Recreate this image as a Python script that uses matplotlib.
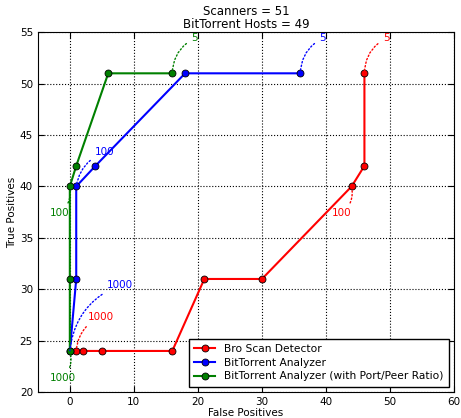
import matplotlib
matplotlib.use('Agg')
from matplotlib import pyplot as plt

# ROC-style data: (false positives, true positives) per threshold
bro_fp = [1, 2, 5, 16, 21, 30, 44, 46, 46]
bro_tp = [24, 24, 24, 24, 31, 31, 40, 42, 51]
bt_fp = [0, 1, 1, 4, 18, 36]
bt_tp = [24, 31, 40, 42, 51, 51]
btr_fp = [0, 0, 0, 1, 6, 16]
btr_tp = [24, 31, 40, 42, 51, 51]

labels = ["Bro Scan Detector", "BitTorrent Analyzer",
          "BitTorrent Analyzer (with Port/Peer Ratio)"]

# threshold labels: (text, point xy, text xy, colour)
notes = [
    ("5", (46, 51), (49.4, 54.4), "red"),
    ("100", (44, 40), (42.5, 37.4), "red"),
    ("1000", (1, 24), (4.8, 27.3), "red"),
    ("5", (36, 51), (39.5, 54.4), "blue"),
    ("100", (1, 40), (5.5, 43.3), "blue"),
    ("1000", (0, 24), (7.8, 30.4), "blue"),
    ("5", (16, 51), (19.5, 54.4), "green"),
    ("100", (0, 40), (-1.6, 37.4), "green"),
    ("1000", (0, 24), (-1.1, 21.4), "green"),
]

plt.rcParams['font.size'] = 8
fig = plt.figure(figsize=(4.61, 4.18), dpi=100)
ax = fig.add_axes([0.082, 0.062, 0.903, 0.861])

ax.plot(bro_fp, bro_tp, "-o", color="red", lw=1.5, ms=5, mec="black", mew=0.6, label=labels[0])
ax.plot(bt_fp, bt_tp, "-o", color="blue", lw=1.5, ms=5, mec="black", mew=0.6, label=labels[1])
ax.plot(btr_fp, btr_tp, "-o", color="green", lw=1.5, ms=5, mec="black", mew=0.6, label=labels[2])

for txt, xy, xyt, c in notes:
    ax.annotate(txt, xy=xy, xytext=xyt, color=c, fontsize=7.5,
                ha="center", va="center",
                arrowprops=dict(arrowstyle="-", linestyle=":", color=c, lw=1,
                                connectionstyle="arc3,rad=0.3",
                                shrinkA=2, shrinkB=0))

ax.set_xlim(-5, 60)
ax.set_ylim(20, 55)
ax.set_xticks(range(0, 61, 10))
ax.set_yticks(range(20, 56, 5))
ax.grid(True, color="black", linestyle=":", lw=0.8)
ax.tick_params(direction="in", length=4, labelsize=7.5, top=True, right=True)
ax.set_xlabel("False Positives", fontsize=7.5, labelpad=1)
ax.set_ylabel("True Positives", fontsize=7.5, labelpad=2)
ax.set_title("Scanners = 51\nBitTorrent Hosts = 49", fontsize=8.5, linespacing=1.0, pad=3)
leg = ax.legend(loc="lower right", fontsize=7.7, fancybox=False, framealpha=1,
                handlelength=2.0, borderpad=0.5, labelspacing=0.35)
leg.get_frame().set_edgecolor("black")

fig.savefig("out.png", dpi=100)
